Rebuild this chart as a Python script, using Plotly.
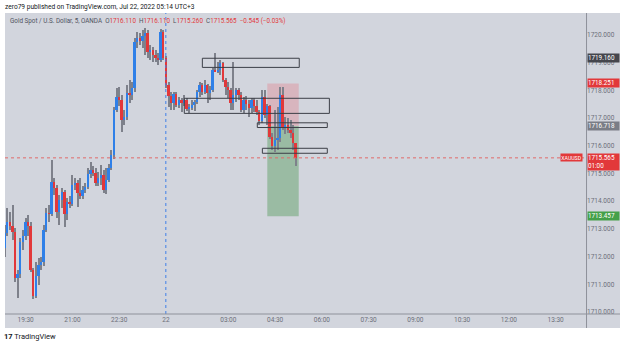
import pandas as pd
import plotly.graph_objects as go

# ---------------- data (XAUUSD 5-min bars, Jul 21 18:50 -> Jul 22 05:10, UTC+3) ----------------
session1 = pd.date_range("2022-07-21 18:50", "2022-07-21 23:55", freq="5min")
session2 = pd.date_range("2022-07-22 01:00", "2022-07-22 14:30", freq="5min")
slots = list(session1) + list(session2)          # time-axis slots (session break hidden)

open_ = [
    1712.31, 1712.85, 1713.25, 1713.10, 1712.89, 1711.23, 1711.37, 1712.53,
    1712.74, 1713.25, 1713.10, 1711.52, 1710.58, 1711.30, 1711.70, 1711.81,
    1712.96, 1713.57, 1713.54, 1714.69, 1714.48, 1713.61, 1714.04, 1714.33,
    1713.54, 1713.97, 1713.90, 1714.59, 1714.66, 1714.30, 1714.19, 1714.40,
    1714.51, 1714.98, 1715.13, 1715.02, 1714.66, 1714.84, 1714.95, 1714.40,
    1714.77, 1715.20, 1715.67, 1717.29, 1717.76, 1717.65, 1716.93, 1717.04,
    1717.91, 1717.83, 1718.09, 1719.75, 1719.89, 1719.78, 1719.96, 1720.07,
    1719.39, 1719.46, 1719.28, 1719.17, 1719.10, 1720.11,
    1719.17, 1718.20, 1717.80, 1717.55, 1717.87, 1717.47, 1717.65, 1717.55,
    1717.65, 1717.33, 1717.40, 1717.47, 1717.58, 1717.94, 1718.20, 1717.94,
    1718.20, 1717.91, 1718.01, 1718.74, 1718.66, 1718.74, 1718.99, 1718.38,
    1718.12, 1718.01, 1717.55, 1717.83, 1718.01, 1717.83, 1717.29, 1717.65,
    1717.51, 1717.37, 1717.65, 1717.44, 1717.22, 1716.90, 1717.76, 1717.11,
    1717.44, 1716.32, 1715.99, 1716.21, 1716.28, 1717.83, 1716.64, 1716.75,
    1716.57, 1716.46, 1716.11,
]
high = [
    1713.14, 1713.75, 1713.61, 1713.86, 1713.03, 1711.52, 1712.67, 1712.96,
    1713.39, 1713.50, 1713.25, 1711.59, 1711.81, 1711.95, 1711.99, 1713.14,
    1713.75, 1713.86, 1715.49, 1714.84, 1714.59, 1714.22, 1714.48, 1714.40,
    1714.12, 1714.19, 1714.95, 1714.84, 1714.77, 1714.84, 1714.55, 1714.66,
    1715.20, 1715.42, 1715.27, 1715.20, 1715.05, 1715.31, 1715.13, 1715.20,
    1715.34, 1715.85, 1717.40, 1718.09, 1718.12, 1717.83, 1717.29, 1718.20,
    1718.38, 1718.30, 1719.89, 1720.11, 1720.07, 1720.18, 1720.25, 1720.18,
    1719.64, 1719.57, 1719.46, 1719.35, 1720.22, 1720.18,
    1719.24, 1718.30, 1717.94, 1717.94, 1717.94, 1717.76, 1717.73, 1717.83,
    1717.73, 1717.51, 1717.65, 1717.65, 1718.01, 1718.30, 1718.27, 1718.38,
    1718.23, 1718.16, 1718.81, 1719.35, 1719.03, 1719.10, 1719.03, 1718.45,
    1718.30, 1718.09, 1719.03, 1718.09, 1718.09, 1717.94, 1717.76, 1717.80,
    1717.65, 1717.73, 1717.73, 1717.65, 1717.29, 1718.01, 1718.01, 1717.51,
    1717.47, 1716.46, 1717.29, 1717.40, 1718.12, 1718.12, 1717.04, 1717.00,
    1716.93, 1716.75, 1716.11,
]
low = [
    1711.99, 1712.74, 1712.96, 1712.60, 1711.08, 1710.51, 1711.23, 1712.24,
    1712.60, 1712.74, 1711.44, 1710.47, 1710.51, 1710.98, 1711.52, 1711.66,
    1712.89, 1713.25, 1713.47, 1714.22, 1713.39, 1713.14, 1713.75, 1713.07,
    1713.32, 1713.75, 1713.83, 1714.40, 1713.79, 1714.08, 1714.08, 1714.30,
    1714.44, 1714.84, 1714.91, 1714.55, 1714.55, 1714.59, 1714.30, 1714.26,
    1714.69, 1715.13, 1715.52, 1717.22, 1717.44, 1716.50, 1716.75, 1716.93,
    1717.55, 1717.65, 1717.94, 1719.53, 1719.64, 1719.53, 1719.28, 1719.17,
    1719.10, 1719.03, 1719.03, 1718.92, 1719.03, 1719.10,
    1718.09, 1717.40, 1717.29, 1717.29, 1717.40, 1717.37, 1717.22, 1717.44,
    1717.26, 1717.18, 1717.29, 1717.26, 1717.51, 1717.76, 1717.83, 1717.87,
    1717.55, 1717.65, 1717.94, 1718.66, 1718.63, 1718.56, 1718.30, 1717.83,
    1717.73, 1717.29, 1717.29, 1717.58, 1717.65, 1717.22, 1717.18, 1717.29,
    1717.04, 1717.18, 1717.22, 1717.11, 1716.75, 1716.82, 1717.00, 1716.75,
    1716.25, 1715.85, 1715.78, 1715.85, 1716.14, 1716.57, 1716.43, 1716.46,
    1716.28, 1715.85, 1715.26,
]
close = [
    1712.85, 1713.25, 1713.10, 1712.89, 1711.23, 1711.37, 1712.53, 1712.74,
    1713.25, 1713.10, 1711.52, 1710.58, 1711.30, 1711.70, 1711.81, 1712.96,
    1713.57, 1713.54, 1714.69, 1714.48, 1713.61, 1714.04, 1714.33, 1713.54,
    1713.97, 1713.90, 1714.59, 1714.66, 1714.30, 1714.19, 1714.40, 1714.51,
    1714.98, 1715.13, 1715.02, 1714.66, 1714.84, 1714.95, 1714.40, 1714.77,
    1715.20, 1715.67, 1717.29, 1717.76, 1717.65, 1716.93, 1717.04, 1717.91,
    1717.83, 1718.09, 1719.75, 1719.89, 1719.78, 1719.96, 1720.07, 1719.39,
    1719.46, 1719.28, 1719.17, 1719.10, 1720.11, 1719.17,
    1718.20, 1717.80, 1717.55, 1717.87, 1717.47, 1717.65, 1717.55, 1717.65,
    1717.33, 1717.40, 1717.47, 1717.58, 1717.94, 1718.20, 1717.94, 1718.20,
    1717.91, 1718.01, 1718.74, 1718.66, 1718.74, 1718.99, 1718.38, 1718.12,
    1718.01, 1717.55, 1717.83, 1718.01, 1717.83, 1717.29, 1717.65, 1717.51,
    1717.37, 1717.65, 1717.44, 1717.22, 1716.90, 1717.76, 1717.11, 1717.44,
    1716.32, 1715.99, 1716.21, 1716.28, 1717.83, 1716.64, 1716.75, 1716.57,
    1716.46, 1716.11, 1715.565,
]

tick_times = ["2022-07-21 19:30", "2022-07-21 21:00", "2022-07-21 22:30", "2022-07-22 01:00",
              "2022-07-22 03:00", "2022-07-22 04:30", "2022-07-22 06:00", "2022-07-22 07:30",
              "2022-07-22 09:00", "2022-07-22 10:30", "2022-07-22 12:00", "2022-07-22 13:30"]
tick_labels = ["19:30", "21:00", "22:30", "22", "03:00", "04:30",
               "06:00", "07:30", "09:00", "10:30", "12:00", "13:30"]
price_ticks = [1710, 1711, 1712, 1713, 1714, 1715, 1716, 1717, 1718, 1719, 1720]

# drawings (rectangles: [slot_start, slot_end], [price_top, price_bottom])
rect_slots = [[76.0, 113.3], [69.05, 124.9], [97.15, 124.1], [99.1, 124.1]]
rect_prices = [[1719.16, 1718.83], [1717.715, 1717.17], [1716.83, 1716.66], [1715.91, 1715.73]]
position_slots = [101.0, 113.1]
stop_price, entry_price, target_price = 1718.251, 1716.718, 1713.457
last_price = 1715.565
hline_price = 1719.160

# ---------------- styling ----------------
BG = "#d2d5dd"
UP = "#2f80e8"
DN = "#e2383a"
WICK = "#7e818b"
AXTXT = "#6c6f7a"
FONT = "Roboto"

n = len(close)
x = list(range(n))
body_base = [min(o, c) for o, c in zip(open_, close)]
body_h = [max(abs(c - o), 0.02) for o, c in zip(open_, close)]
body_col = [UP if c >= o else DN for o, c in zip(open_, close)]

fig = go.Figure()
fig.add_trace(go.Bar(x=x, y=[h - l for h, l in zip(high, low)], base=low, width=0.42,
                     marker=dict(color=WICK, line=dict(width=0)), hoverinfo="skip"))
fig.add_trace(go.Bar(x=x, y=body_h, base=body_base, width=0.72,
                     marker=dict(color=body_col, line=dict(width=0)), hoverinfo="skip"))

tickvals = [slots.index(pd.Timestamp(t)) for t in tick_times]
sep_slot = slots.index(pd.Timestamp("2022-07-22 01:00")) - 0.05

shapes = []
# widget background (incl. axes)
shapes.append(dict(type="rect", xref="paper", yref="paper", x0=0, x1=1.0585, y0=-0.0465, y1=1,
                   fillcolor=BG, line=dict(width=0), layer="below"))
# position tool
shapes.append(dict(type="rect", xref="x", yref="y", x0=position_slots[0], x1=position_slots[1],
                   y0=entry_price, y1=stop_price, fillcolor="rgba(242,54,69,0.20)",
                   line=dict(width=0), layer="below"))
shapes.append(dict(type="rect", xref="x", yref="y", x0=position_slots[0], x1=position_slots[1],
                   y0=target_price, y1=entry_price, fillcolor="rgba(56,142,60,0.36)",
                   line=dict(width=0), layer="below"))
# rectangles
for (s0, s1), (p0, p1) in zip(rect_slots, rect_prices):
    shapes.append(dict(type="rect", xref="x", yref="y", x0=s0, x1=s1, y0=p1, y1=p0,
                       line=dict(color="#3c3f47", width=1), fillcolor="rgba(0,0,0,0)"))
# session separator
shapes.append(dict(type="line", xref="x", yref="paper", x0=sep_slot, x1=sep_slot, y0=0, y1=1,
                   line=dict(color="#3f7fe8", width=1, dash="3px,3px")))
# last price line
shapes.append(dict(type="line", xref="paper", yref="y", x0=0, x1=1, y0=last_price, y1=last_price,
                   line=dict(color="#e06a6a", width=1, dash="dot")))
# axis borders
shapes.append(dict(type="line", xref="paper", yref="paper", x0=1.0009, x1=1.0009, y0=-0.0465, y1=1,
                   line=dict(color="#8e919a", width=1)))
shapes.append(dict(type="line", xref="paper", yref="paper", x0=0, x1=1.0585, y0=0, y1=0,
                   line=dict(color="#8e919a", width=1)))

ann = []
ann.append(dict(xref="paper", yref="paper", x=-0.004, y=1.0199, xanchor="left", yanchor="middle",
                text="zero79 published on TradingView.com, Jul 22, 2022 05:14 UTC+3",
                showarrow=False, font=dict(family=FONT, size=6.6, color="#131722")))
legend_txt = ("Gold Spot / U.S. Dollar, 5, OANDA&nbsp;&nbsp;"
              f"O<span style='color:{DN}'>{open_[-1]:.3f}</span>&nbsp;&nbsp;"
              f"H<span style='color:{DN}'>{high[-1]:.3f}</span>&nbsp;&nbsp;"
              f"L<span style='color:{DN}'>{low[-1]:.3f}</span>&nbsp;&nbsp;"
              f"C<span style='color:{DN}'>{close[-1]:.3f}</span>&nbsp;&nbsp;"
              f"<span style='color:{DN}'>−0.545 (−0.03%)</span>")
ann.append(dict(xref="paper", yref="paper", x=0.005, y=0.9734, xanchor="left", yanchor="middle",
                text=legend_txt, showarrow=False, font=dict(family=FONT, size=6.3, color="#50535e")))
ann.append(dict(xref="paper", yref="paper", x=-0.005, y=-0.0764, xanchor="left", yanchor="middle",
                text="<b>17</b> TradingView", showarrow=False,
                font=dict(family=FONT, size=7.5, color="#131722")))

def price_label(price, text, color, h=8, yshift=0):
    return dict(xref="paper", yref="y", x=1.0017, y=price, xanchor="left", yanchor="middle",
                text=text, showarrow=False, bgcolor=color, width=31, height=h, borderpad=0,
                align="left", yshift=yshift, font=dict(family=FONT, size=6.3, color="white"))

ann.append(price_label(hline_price, f"{hline_price:.3f}", "#45464d"))
ann.append(price_label(stop_price, f"{stop_price:.3f}", DN))
ann.append(price_label(entry_price, f"{entry_price:.3f}", "#7a7d86"))
ann.append(price_label(last_price, f"{last_price:.3f}<br>01:00", DN, h=16, yshift=-4))
ann.append(price_label(target_price, f"{target_price:.3f}", "#45a049"))
ann.append(dict(xref="paper", yref="y", x=0.9948, y=last_price, xanchor="right", yanchor="middle",
                text="XAUUSD", showarrow=False, bgcolor=DN, width=21, height=7, borderpad=0,
                font=dict(family=FONT, size=5.2, color="white")))

fig.update_layout(
    width=625, height=346,
    margin=dict(l=5, r=39, t=13, b=32),
    paper_bgcolor="white", plot_bgcolor=BG,
    showlegend=False, barmode="overlay", bargap=0,
    shapes=shapes, annotations=ann,
    xaxis=dict(range=[0.04, 223.67], tickvals=tickvals, ticktext=tick_labels,
               showgrid=False, zeroline=False, showline=False, ticks="",
               tickfont=dict(family=FONT, size=6.5, color=AXTXT), automargin=False, fixedrange=True),
    yaxis=dict(range=[1709.928, 1720.794], side="right", tickvals=price_ticks, tickformat=".3f",
               showgrid=False, zeroline=False, showline=False, ticks="",
               tickfont=dict(family=FONT, size=6.5, color=AXTXT), automargin=False, fixedrange=True),
)

fig.write_html("out.html")
